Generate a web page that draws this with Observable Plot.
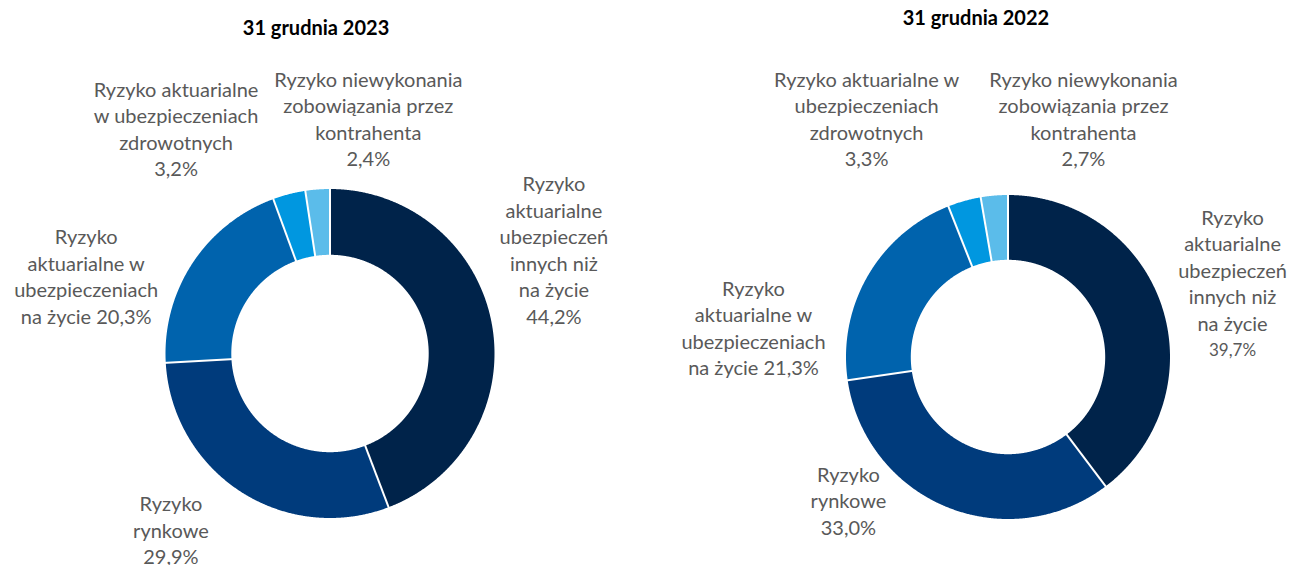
<!DOCTYPE html>
<html>
<head>
<meta charset="utf-8">
<script src="https://cdn.jsdelivr.net/npm/d3@7"></script>
<script src="https://cdn.jsdelivr.net/npm/@observablehq/plot@0.6"></script>
<style>
  html, body { margin: 0; padding: 0; background: #fff; }
  #wrap { display: flex; flex-direction: row; width: 1292px; height: 565px; }
  #wrap svg { display: block; }
</style>
</head>
<body>
<div id="wrap"></div>
<script>
// ---- data ----
const names = [
  "Ryzyko aktuarialne ubezpieczeń innych niż na życie",
  "Ryzyko rynkowe",
  "Ryzyko aktuarialne w ubezpieczeniach na życie",
  "Ryzyko aktuarialne w ubezpieczeniach zdrowotnych",
  "Ryzyko niewykonania zobowiązania przez kontrahenta"
];
const values2023 = [44.2, 29.9, 20.3, 3.2, 2.4];
const values2022 = [39.7, 33.0, 21.3, 3.3, 2.7];
const titles = ["31 grudnia 2023", "31 grudnia 2022"];
const wraps2023 = [
  "Ryzyko\naktuarialne\nubezpieczeń\ninnych niż\nna życie\n",
  "Ryzyko\nrynkowe\n",
  "Ryzyko\naktuarialne w\nubezpieczeniach\nna życie ",
  "Ryzyko aktuarialne\nw ubezpieczeniach\nzdrowotnych\n",
  "Ryzyko niewykonania\nzobowiązania przez\nkontrahenta\n"
];
const wraps2022 = [
  "Ryzyko\naktuarialne\nubezpieczeń\ninnych niż\nna życie\n",
  "Ryzyko\nrynkowe\n",
  "Ryzyko\naktuarialne w\nubezpieczeniach\nna życie ",
  "Ryzyko aktuarialne w\nubezpieczeniach\nzdrowotnych\n",
  "Ryzyko niewykonania\nzobowiązania przez\nkontrahenta\n"
];

// ---- style / layout ----
const colors = ["#00234A", "#003B7C", "#0063AD", "#0097E0", "#5BBCEA"];
const W = 646, H = 565;
const FONT = "Lato, 'Noto Sans', sans-serif";
const layouts = [
  { cx: 329.5, cy: 353, R: 164.5, inner: 0.6,
    title: [-0.085, 1.976],
    labels: [[1.361, 1.024], [-0.967, -0.921], [-1.482, 0.703], [-0.936, 1.6], [0.233, 1.661]],
    pctSize: [20, 20, 20, 20, 20] },
  { cx: 361.5, cy: 356.5, R: 162, inner: 0.6,
    title: [-0.198, 2.09],
    labels: [[1.386, 0.855], [-0.985, -0.731], [-1.571, 0.417], [-0.873, 1.707], [0.466, 1.707]],
    pctSize: [17, 20, 20, 20, 20] }
];
const lineStep = 26.5; // px between label lines

const fmt = v => d3.format(".1f")(v).replace(".", ",") + "%";

function donut(values, wraps, title, L) {
  const arcs = d3.pie().sort(null).value(d => d)(values);
  const pts = [];
  arcs.forEach((a, i) => {
    const n = Math.max(2, Math.ceil((a.endAngle - a.startAngle) / 0.005));
    for (let k = 0; k <= n; k++) {
      const t = a.startAngle + (a.endAngle - a.startAngle) * k / n;
      pts.push({ i, x: Math.sin(t), y: Math.cos(t), color: colors[i] });
    }
    for (let k = n; k >= 0; k--) {
      const t = a.startAngle + (a.endAngle - a.startAngle) * k / n;
      pts.push({ i, x: L.inner * Math.sin(t), y: L.inner * Math.cos(t), color: colors[i] });
    }
  });
  const seps = arcs.map(a => ({
    x1: (L.inner - 0.02) * Math.sin(a.startAngle), y1: (L.inner - 0.02) * Math.cos(a.startAngle),
    x2: 1.02 * Math.sin(a.startAngle), y2: 1.02 * Math.cos(a.startAngle)
  }));
  const lines = [];
  values.forEach((v, i) => {
    const txt = wraps[i] + fmt(v);
    const parts = txt.split("\n");
    parts.forEach((p, j) => {
      const isPct = j === parts.length - 1 && wraps[i].endsWith("\n");
      lines.push({
        text: p,
        x: L.labels[i][0],
        y: L.labels[i][1] - j * lineStep / L.R,
        size: isPct ? L.pctSize[i] : 20
      });
    });
  });
  return Plot.plot({
    width: W, height: H, margin: 0,
    style: { fontFamily: FONT, background: "white" },
    x: { domain: [-L.cx / L.R, (W - L.cx) / L.R], range: [0, W], axis: null },
    y: { domain: [-(H - L.cy) / L.R, L.cy / L.R], range: [H, 0], axis: null },
    color: { type: "identity" },
    marks: [
      Plot.line(pts, { x: "x", y: "y", z: "i", fill: "color", stroke: "none", curve: "linear-closed" }),
      Plot.link(seps, { x1: "x1", y1: "y1", x2: "x2", y2: "y2", stroke: "white", strokeWidth: 2 }),
      Plot.text(lines, { x: "x", y: "y", text: "text", fontSize: "size", fill: "#595959", textAnchor: "middle" }),
      Plot.text([title], { x: () => L.title[0], y: () => L.title[1], text: d => d, fontSize: 20, fontWeight: "bold", fill: "#000" })
    ]
  });
}

const wrap = document.getElementById("wrap");
wrap.append(donut(values2023, wraps2023, titles[0], layouts[0]));
wrap.append(donut(values2022, wraps2022, titles[1], layouts[1]));
</script>
</body>
</html>
